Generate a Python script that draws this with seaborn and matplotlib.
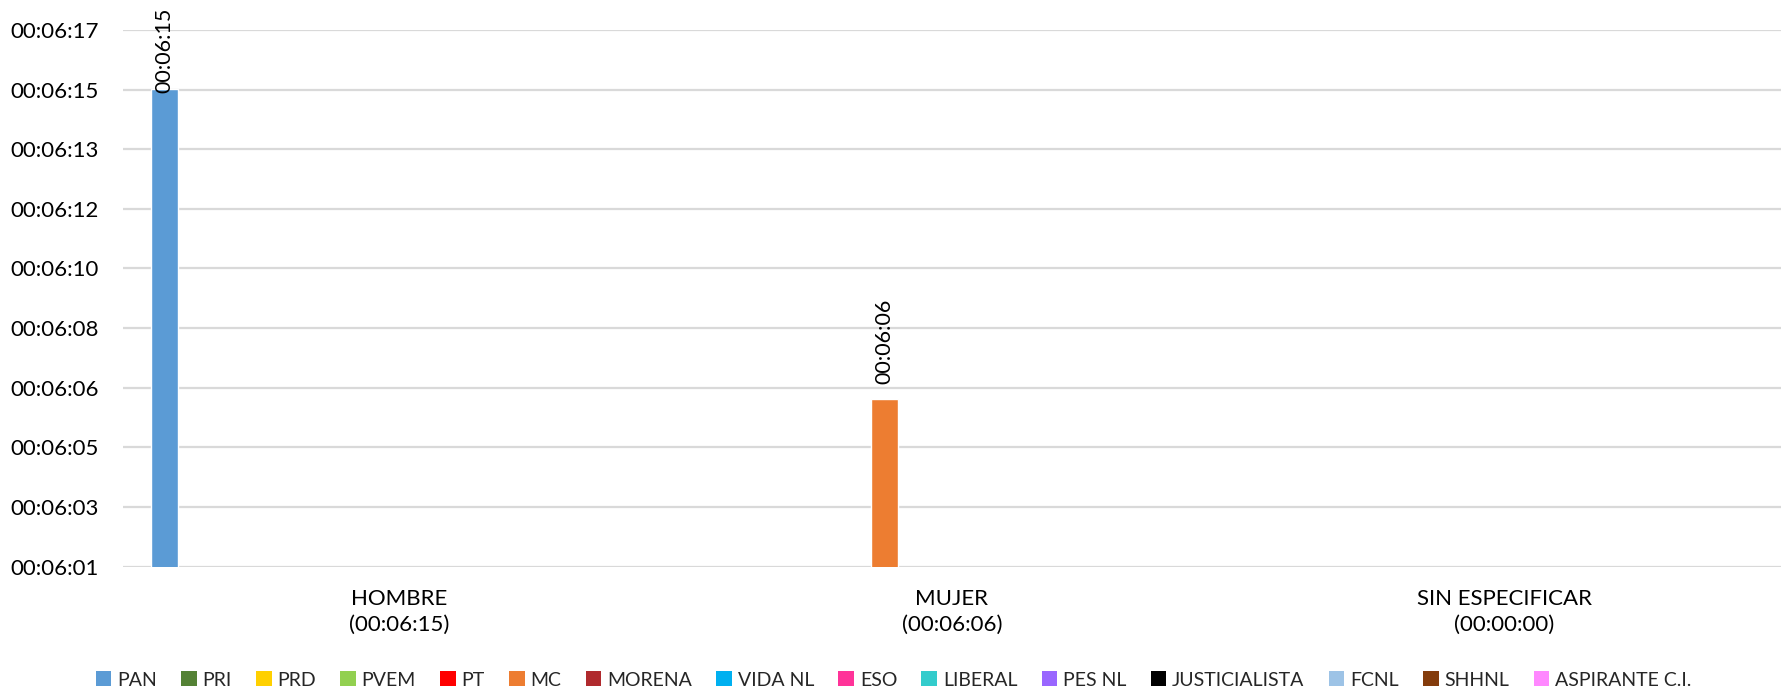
import numpy as np
import pandas as pd
import matplotlib
matplotlib.use("Agg")
import matplotlib.pyplot as plt
from matplotlib.patches import Patch
import seaborn as sns

# ---- data ----
categories = ["HOMBRE", "MUJER", "SIN ESPECIFICAR"]
category_totals = ["00:06:15", "00:06:06", "00:00:00"]
parties = ["PAN", "PRI", "PRD", "PVEM", "PT", "MC", "MORENA", "VIDA NL", "ESO",
           "LIBERAL", "PES NL", "JUSTICIALISTA", "FCNL", "SHHNL", "ASPIRANTE C.I."]
colors = ["#5B9BD5", "#548235", "#FFD000", "#92D050", "#FF0000", "#ED7D31",
          "#B02A2E", "#00B0F0", "#FF3399", "#33CCCC", "#9966FF", "#000000",
          "#9DC3E6", "#843C0C", "#FF88FF"]
# seconds per party for each category (HOMBRE, MUJER, SIN ESPECIFICAR)
pan_secs = [375, 0, 0]
mc_secs = [0, 366, 0]
values = {p: [0, 0, 0] for p in parties}
values["PAN"] = pan_secs
values["MC"] = mc_secs
ytick_values = np.arange(209, 219) * 1.728  # Excel auto step of 0.00002 days

rows = []
for p in parties:
    for c, v in zip(categories, values[p]):
        rows.append({"cat": c, "party": p, "secs": v})
df = pd.DataFrame(rows)

def fmt(s):
    s = int(round(s))
    return "%02d:%02d:%02d" % (s // 3600, (s % 3600) // 60, s % 60)

sns.set_theme(style="white")
plt.rcParams["font.family"] = ["Lato", "DejaVu Sans"]

fig = plt.figure(figsize=(17.87, 6.91), dpi=100)
ax = fig.add_axes([0.0688, 0.18, 0.9278, 0.7766])

sns.barplot(data=df, x="cat", y="secs", hue="party", hue_order=parties,
            order=categories, palette=colors, width=0.912, gap=0.2,
            saturation=1, legend=False, ax=ax, errorbar=None)

ymin, ymax = ytick_values[0], ytick_values[-1]
ax.set_ylim(ymin, ymax)
ax.set_xlim(-0.5, 2.5)
ax.set_yticks(ytick_values)
ax.set_yticklabels([fmt(v) for v in ytick_values], fontsize=16, color="#000000")
ax.set_xticks(range(len(categories)))
ax.set_xticklabels([f"{c}\n({t})" for c, t in zip(categories, category_totals)],
                   fontsize=16, color="#000000", linespacing=1.35)
ax.tick_params(axis="x", length=0, pad=16)
ax.tick_params(axis="y", length=0, pad=17.5)
ax.set_xlabel("")
ax.set_ylabel("")
ax.yaxis.grid(True, color="#D9D9D9", linewidth=1.6)
ax.set_axisbelow(True)
for s in ax.spines.values():
    s.set_visible(False)

# data labels
for cont in ax.containers:
    for bar in cont:
        h = bar.get_height()
        if h > 0:
            x = bar.get_x() + bar.get_width() / 2
            near_top = h > ymax - 3
            ax.annotate(fmt(h), (x, h), xytext=(0, -3 if near_top else 11),
                        textcoords="offset points", rotation=90,
                        ha="center", va="bottom", fontsize=15.5,
                        color="#000000", annotation_clip=False)

handles = [Patch(facecolor=c, edgecolor="none") for c in colors]
fig.legend(handles, parties, loc="center", bbox_to_anchor=(0.5, 0.016),
           ncol=len(parties), frameon=False, fontsize=14,
           handlelength=0.8, handleheight=0.8, handletextpad=0.3,
           columnspacing=1.25)

fig.savefig("out.png", dpi=100)
